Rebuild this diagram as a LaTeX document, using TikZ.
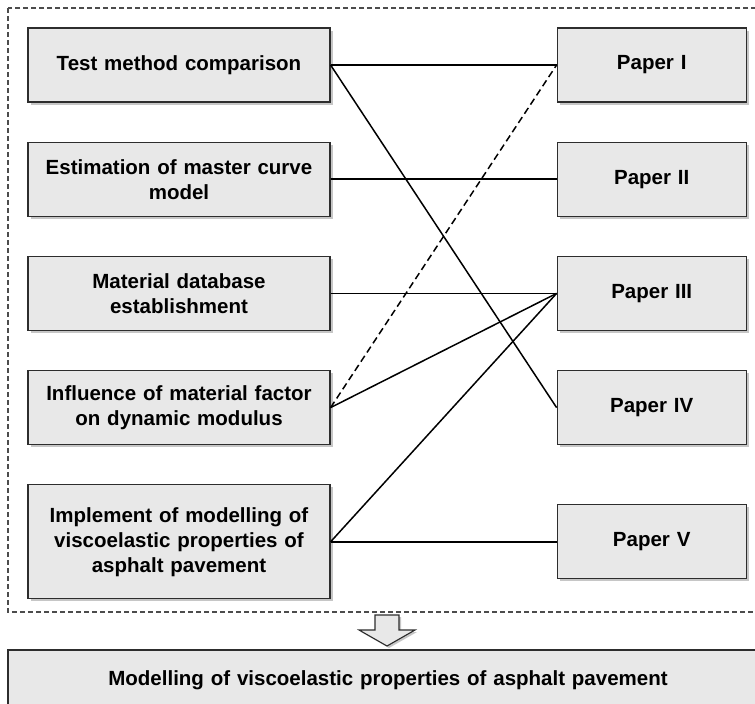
\documentclass[tikz,border=0pt]{standalone}
\usepackage{fontspec}
\setmainfont{Liberation Sans}
\usetikzlibrary{positioning, shadows}

\definecolor{boxfill}{RGB}{232,232,232}
\definecolor{boxline}{RGB}{45,45,45}
\newcommand{\boxfont}{\fontsize{20.5}{25}\selectfont\bfseries\spaceskip=0.65em\relax}

\tikzset{
  topic/.style={draw=boxline, line width=1.2pt, fill=boxfill,
    drop shadow={shadow xshift=2.5pt, shadow yshift=-2.5pt, opacity=0.45},
    text width=290pt, inner xsep=6pt, minimum height=74pt, align=center, font=\boxfont},
  paper/.style={topic, text width=177pt},
  link/.style={line width=1.5pt},
  frame/.style={draw=black!70, line width=1.1pt, dash pattern=on 5pt off 3pt}
}

\begin{document}
\begin{tikzpicture}[x=1pt, y=-1pt]
        \useasboundingbox (0,0) rectangle (755,704);
        \draw[frame] (8,8) rectangle (762,612);
        \node[topic] (f_1) at (179,65) {Test method comparison};
        \node[topic] (f_2) [below=39pt of f_1] {Estimation of master curve\\model};
        \node[topic] (f_3) [below=39pt of f_2] {Material database\\establishment};
        \node[topic] (f_4) [below=39pt of f_3] {Influence of material factor\\on dynamic modulus};
        \node[topic, minimum height=114pt] (f_5) [below=39pt of f_4] {Implement of modelling of\\viscoelastic properties of\\asphalt pavement};
        \node[paper] (p_1) [right=226pt of f_1] {Paper I};
        \node[paper] (p_2) [right=226pt of f_2] {Paper II};
        \node[paper] (p_3) [right=226pt of f_3] {Paper III};
        \node[paper] (p_4) [right=226pt of f_4] {Paper IV};
        \node[paper] (p_5) [right=226pt of f_5] {Paper V};
        \path[link]
                (f_1.east) edge (p_1.west)
                           edge (p_4.west)
                (f_2.east) edge (p_2.west)
                (f_3.east) edge (p_3.west)
                (f_4.east) edge [dash pattern=on 7pt off 4pt] (p_1.west)
                           edge (p_3.west)
                (f_5.east) edge (p_3.west)
                           edge (p_5.west);
        \filldraw[draw=boxline, line width=1.1pt, fill=boxfill,
                drop shadow={shadow xshift=2pt, shadow yshift=-2pt, opacity=0.45}]
                (375,615) -- (399,615) -- (399,630) -- (415,630) -- (387,646)
                -- (359,630) -- (375,630) -- cycle;
        \node[topic, text width=748pt, minimum height=60pt] (goal) at (388,680)
                {Modelling of viscoelastic properties of asphalt pavement};
\end{tikzpicture}
\end{document}
